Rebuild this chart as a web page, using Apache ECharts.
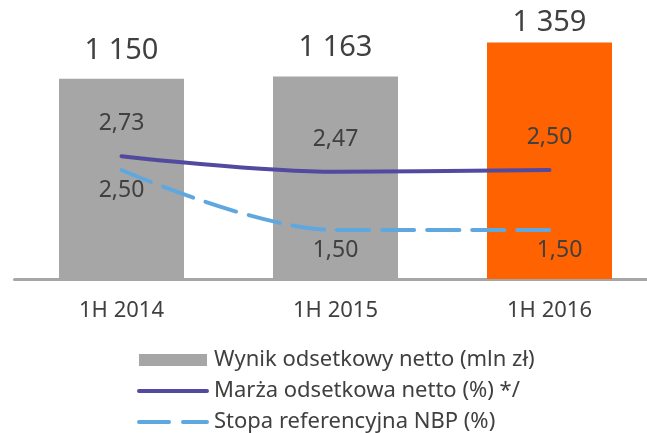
<!DOCTYPE html>
<html>
<head>
<meta charset="utf-8">
<script src="https://cdn.jsdelivr.net/npm/echarts@6/dist/echarts.min.js"></script>
<style>
  html, body { margin: 0; padding: 0; background: #fff; }
  #main { width: 647px; height: 433px; }
</style>
</head>
<body>
<div id="main"></div>
<script>
// dane
var categories = ["1H 2014", "1H 2015", "1H 2016"];
var wynik = [1150, 1163, 1359];
var marza = [2.73, 2.47, 2.50];
var stopa = [2.50, 1.50, 1.50];

var nameWynik = "Wynik odsetkowy netto (mln zł)";
var nameMarza = "Marża odsetkowa netto (%) */";
var nameStopa = "Stopa referencyjna NBP (%)";

var txt = "#404040";
var font = "Noto Sans";
var cMarza = "#524A9E";
var cStopa = "#5FA8DF";

function fmtInt(v) {
  return String(v).replace(/\B(?=(\d{3})+(?!\d))/g, " ");
}
function fmtPct(v) {
  return v.toFixed(2).replace(".", ",");
}

var chart = echarts.init(document.getElementById("main"));
chart.setOption({
  animation: false,
  textStyle: { fontFamily: font },
  grid: { left: 14.5, width: 642, top: 0, height: 279, outerBoundsMode: "none", containLabel: false },
  legend: {
    orient: "vertical",
    left: 132,
    top: 344,
    height: 89,
    itemWidth: 68,
    itemHeight: 12,
    itemGap: 9,
    textStyle: { color: txt, fontSize: 22, fontFamily: font, padding: [0, 0, 0, 2] },
    data: [
      { name: nameWynik, icon: "rect" },
      { name: nameMarza, itemStyle: { opacity: 0 }, lineStyle: { width: 4, color: cMarza } },
      { name: nameStopa, itemStyle: { opacity: 0 }, lineStyle: { width: 4, color: cStopa, type: [30, 14] } }
    ]
  },
  xAxis: {
    type: "category",
    data: categories,
    axisLine: { lineStyle: { color: "#A6A6A6", width: 3 } },
    axisTick: { show: false },
    axisLabel: { color: txt, fontSize: 22, margin: 21, fontFamily: font }
  },
  yAxis: [
    { type: "value", min: 0, max: 1603, show: false, splitLine: { show: false } },
    { type: "value", min: 0.683, max: 5.333, show: false, splitLine: { show: false } }
  ],
  series: [
    {
      name: nameWynik,
      type: "bar",
      barWidth: 125,
      itemStyle: { color: "#A6A6A6" },
      data: wynik.map(function (v, i) {
        return i === 2
          ? { value: v, itemStyle: { color: "#FF6200" }, label: { distance: 5 } }
          : v;
      }),
      label: {
        show: true,
        position: "top",
        distance: 14,
        color: txt,
        fontSize: 29,
        fontFamily: font,
        formatter: function (p) { return fmtInt(p.value); }
      }
    },
    {
      name: nameMarza,
      type: "line",
      yAxisIndex: 1,
      smooth: 0.35,
      symbol: "circle",
      symbolSize: 2,
      itemStyle: { color: cMarza },
      lineStyle: { color: cMarza, width: 4, cap: "round" },
      data: marza,
      label: {
        show: true,
        position: "top",
        distance: 20,
        color: txt,
        fontSize: 23,
        fontFamily: font,
        formatter: function (p) { return fmtPct(p.value); }
      }
    },
    {
      name: nameStopa,
      type: "line",
      yAxisIndex: 1,
      smooth: 0.35,
      symbol: "circle",
      symbolSize: 2,
      itemStyle: { color: cStopa },
      lineStyle: { color: cStopa, width: 4, type: [32, 13], cap: "round" },
      data: stopa.map(function (v, i) {
        return i === 2 ? { value: v, label: { offset: [10, 0] } } : v;
      }),
      label: {
        show: true,
        position: "bottom",
        distance: 8,
        color: txt,
        fontSize: 23,
        fontFamily: font,
        formatter: function (p) { return fmtPct(p.value); }
      }
    }
  ]
});
</script>
</body>
</html>
